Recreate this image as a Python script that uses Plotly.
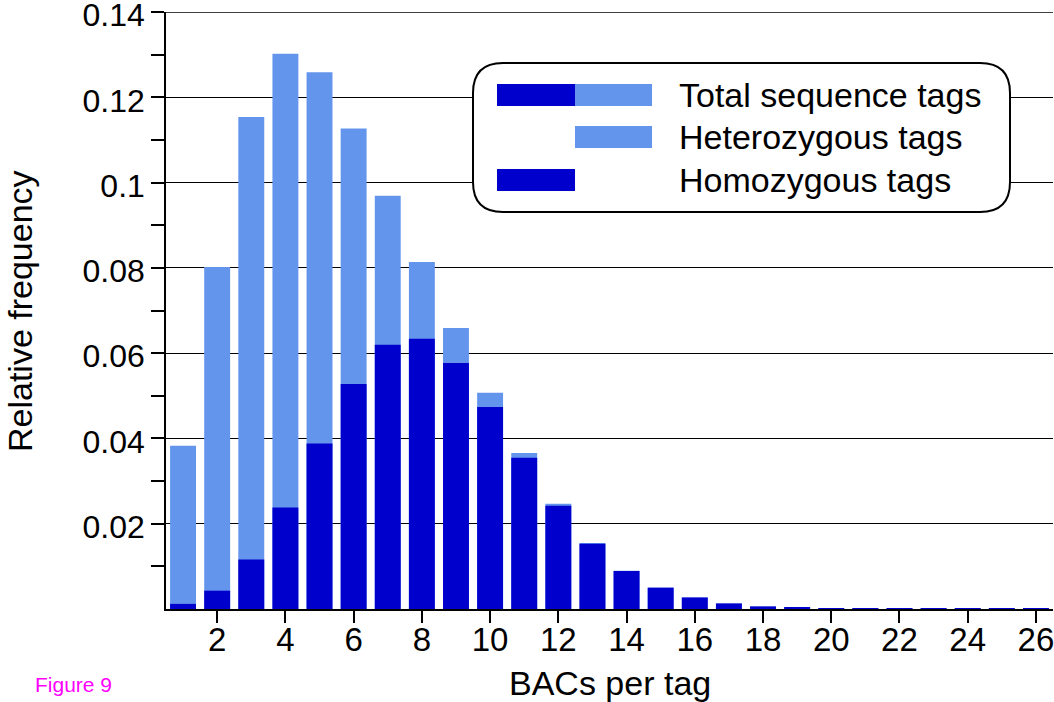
import plotly.graph_objects as go

# ---------------- data ----------------
bacs_per_tag = list(range(1, 27))
total_tags = [0.0383, 0.0802, 0.1154, 0.1302, 0.1259, 0.1127, 0.0969, 0.0814, 0.0659, 0.0507,
              0.0366, 0.0247, 0.0155, 0.0090, 0.0050, 0.0027, 0.0013, 0.0006, 0.0003, 0.0002,
              0.0001, 0.0001, 0.00008, 0.00006, 0.00005, 0.00004]
homozygous_tags = [0.0012, 0.0043, 0.0116, 0.0238, 0.0388, 0.0528, 0.0620, 0.0634, 0.0577, 0.0474,
                   0.0355, 0.0242, 0.0153, 0.0089, 0.0050, 0.0027, 0.0013, 0.0006, 0.0003, 0.0002,
                   0.0001, 0.0001, 0.00008, 0.00006, 0.00005, 0.00004]
x_tick_vals = list(range(2, 27, 2))
y_tick_vals = [0.02, 0.04, 0.06, 0.08, 0.10, 0.12, 0.14]
y_tick_text = ["0.02", "0.04", "0.06", "0.08", "0.1", "0.12", "0.14"]
y_minor_vals = [0.01, 0.03, 0.05, 0.07, 0.09, 0.11, 0.13]
legend_labels = ["Total sequence tags", "Heterozygous tags", "Homozygous tags"]
y_max = 0.14

LIGHT = "rgb(100,149,237)"
DARK = "rgb(0,0,205)"
FONT = "Liberation Sans, Arial, sans-serif"

W, H = 1054, 702
ML, MR, MT, MB = 166, 1, 12, 93
PW, PH = W - ML - MR, H - MT - MB


def px(x):
    return (x - ML) / PW


def py(y):
    return (H - MB - y) / PH


fig = go.Figure()
fig.add_trace(go.Bar(x=bacs_per_tag, y=total_tags, marker=dict(color=LIGHT, line=dict(width=0)),
                     name=legend_labels[0], showlegend=False))
fig.add_trace(go.Bar(x=bacs_per_tag, y=homozygous_tags, marker=dict(color=DARK, line=dict(width=0)),
                     name=legend_labels[2], showlegend=False))

fig.update_layout(
    width=W, height=H,
    margin=dict(l=ML, r=MR, t=MT, b=MB, pad=0, autoexpand=False),
    paper_bgcolor="white", plot_bgcolor="white",
    barmode="overlay", bargap=0.24,
    font=dict(family=FONT, color="black", size=34),
    showlegend=False,
)
fig.update_xaxes(
    range=[0.5, 26.5], tickmode="array", tickvals=x_tick_vals,
    ticks="outside", ticklen=12, tickwidth=1.5, tickcolor="black",
    showline=True, linecolor="black", linewidth=1.5, showgrid=False, zeroline=False,
    tickfont=dict(size=33, family=FONT), ticklabelstandoff=-11, ticklabeloverflow="allow",
    automargin=False,
)
fig.update_yaxes(
    range=[0, y_max + 0.00002], tickmode="array", tickvals=y_tick_vals, ticktext=y_tick_text,
    ticks="outside", ticklen=13, tickwidth=1.5, tickcolor="black",
    showline=True, linecolor="black", linewidth=1.5,
    showgrid=True, gridcolor="black", gridwidth=1.2, zeroline=False,
    tickfont=dict(size=32, family=FONT), ticklabeloverflow="allow", automargin=False,
    ticklabelshift=3,
    minor=dict(tickvals=y_minor_vals, ticks="outside", ticklen=13, tickwidth=1.5,
               tickcolor="black", showgrid=False),
)

# top grid line at the axis maximum
fig.add_shape(type="line", xref="paper", yref="y", x0=0, x1=1, y0=y_max, y1=y_max,
              line=dict(color="black", width=1.5), layer="below")

# axis titles
fig.add_annotation(text="BACs per tag", xref="paper", yref="paper", x=px(610), y=py(683),
                   showarrow=False, font=dict(size=34, family=FONT), xanchor="center", yanchor="middle")
fig.add_annotation(text="Relative frequency", xref="paper", yref="paper", x=px(20), y=py(311),
                   showarrow=False, textangle=-90, font=dict(size=34, family=FONT),
                   xanchor="center", yanchor="middle")
fig.add_annotation(text="Figure 9", xref="paper", yref="paper", x=px(33), y=py(684),
                   showarrow=False, font=dict(size=21, family=FONT, color="#ff00ff"),
                   xanchor="left", yanchor="middle")

# custom legend box (rounded rectangle)
x0, x1, y0, y1, r = 473, 1010, 63, 212, 30
X0, X1, Y0, Y1 = px(x0), px(x1), py(y0), py(y1)
rx, ry = r / PW, r / PH
path = (f"M {X0+rx},{Y0} L {X1-rx},{Y0} Q {X1},{Y0} {X1},{Y0-ry} "
        f"L {X1},{Y1+ry} Q {X1},{Y1} {X1-rx},{Y1} L {X0+rx},{Y1} "
        f"Q {X0},{Y1} {X0},{Y1+ry} L {X0},{Y0-ry} Q {X0},{Y0} {X0+rx},{Y0} Z")
fig.add_shape(type="path", path=path, xref="paper", yref="paper", fillcolor="white",
              line=dict(color="black", width=2), layer="above")

rows = [(95, True, True), (137, False, True), (180, True, False)]
for (yc, dark, light), label in zip(rows, legend_labels):
    if dark:
        fig.add_shape(type="rect", xref="paper", yref="paper", x0=px(497), x1=px(575),
                      y0=py(yc - 11), y1=py(yc + 11), fillcolor=DARK, line=dict(width=0), layer="above")
    if light:
        fig.add_shape(type="rect", xref="paper", yref="paper", x0=px(575), x1=px(652),
                      y0=py(yc - 11), y1=py(yc + 11), fillcolor=LIGHT, line=dict(width=0), layer="above")
    fig.add_annotation(text=label, xref="paper", yref="paper", x=px(677), y=py(yc),
                       showarrow=False, font=dict(size=34, family=FONT),
                       xanchor="left", yanchor="middle")

fig.write_html("out.html")
